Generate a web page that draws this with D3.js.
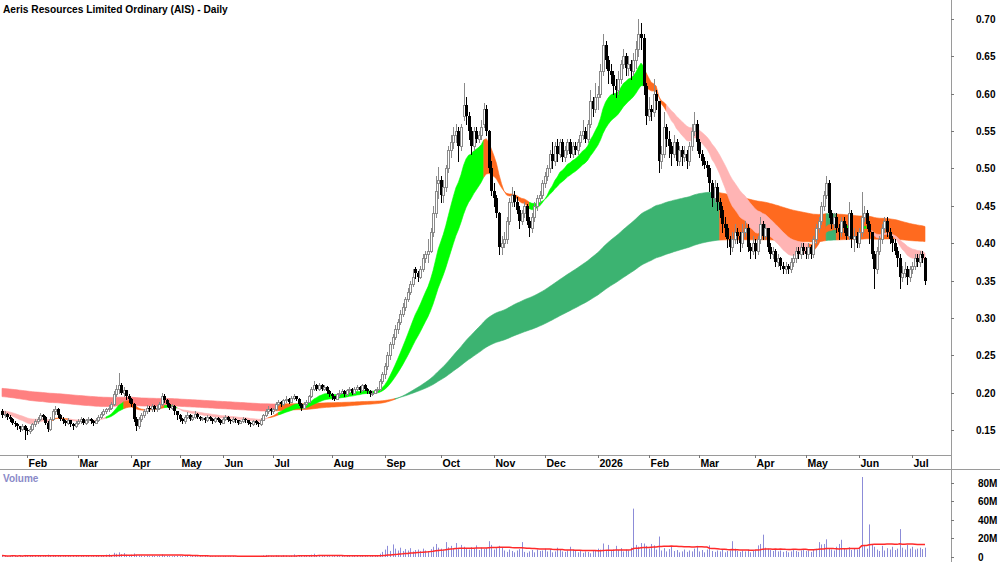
<!DOCTYPE html>
<html>
<head>
<meta charset="utf-8">
<script src="https://cdn.jsdelivr.net/npm/d3@7"></script>
<style>
  body { margin: 0; background: #fff; }
  svg text { font-family: "Liberation Sans", Arial, sans-serif; font-weight: bold; }
</style>
</head>
<body>
<svg id="chart" width="1000" height="562"></svg>
<script>
// Daily candles in cents: [open, high, low, close], one line per month
const ohlc = [
  // Jan 2025
  [17.5,17.8,16.8,17.0],[17.0,17.5,16.8,17.2],[17.2,17.3,16.5,16.8],[16.8,17.0,16.2,16.5],[16.5,16.6,15.8,16.0],[16.0,16.2,15.5,15.8],[15.8,16.0,15.2,15.5],[15.5,15.6,14.8,15.2],[15.2,15.8,15.0,15.6],[15.6,15.7,13.8,15.0],
  // Feb
  [15.0,15.3,14.5,14.8],[14.8,15.5,14.6,15.2],[15.2,16.0,15.0,15.8],[15.8,16.5,15.6,16.2],[16.2,16.8,16.0,16.5],[16.5,17.3,16.3,17.0],[17.0,17.2,16.5,16.8],[16.8,16.9,15.8,16.0],[16.0,16.2,14.8,15.2],[15.2,16.8,15.0,16.5],[16.5,17.8,16.4,17.5],[17.5,18.2,17.2,17.8],[17.8,17.9,16.8,17.0],[17.0,17.2,16.3,16.5],[16.5,16.7,16.0,16.2],[16.2,16.4,15.7,16.0],[16.0,16.6,15.8,16.3],[16.3,16.4,15.6,15.8],[15.8,16.0,15.2,15.5],[15.5,16.2,15.4,16.0],
  // Mar
  [16.0,16.5,15.8,16.2],[16.2,16.8,16.0,16.5],[16.5,16.6,15.8,16.0],[16.0,16.5,15.8,16.3],[16.3,16.8,16.1,16.5],[16.5,16.6,16.0,16.2],[16.2,16.3,15.7,16.0],[16.0,16.6,15.9,16.4],[16.4,17.0,16.2,16.8],[16.8,17.4,16.6,17.2],[17.2,17.8,17.0,17.5],[17.5,18.0,17.3,17.8],[17.8,18.3,17.5,18.0],[18.0,18.8,17.8,18.5],[18.5,20.2,18.3,19.8],[19.8,21.0,19.5,20.5],[20.5,22.6,20.0,21.0],[21.0,21.3,19.8,20.0],[20.0,20.8,19.6,20.3],[20.3,20.4,19.2,19.5],[19.5,19.8,18.8,19.2],
  // Apr
  [19.2,19.3,18.2,18.5],[18.5,18.6,16.2,16.5],[16.5,16.8,15.0,15.5],[15.5,16.8,15.3,16.5],[16.5,17.3,16.2,17.0],[17.0,17.8,16.8,17.5],[17.5,18.3,17.3,18.0],[18.0,18.2,17.5,17.8],[17.8,18.5,17.6,18.2],[18.2,18.3,17.5,17.8],[17.8,18.3,17.6,18.0],[18.0,18.8,17.8,18.5],[18.5,20.0,18.3,19.5],[19.5,19.8,18.8,19.0],[19.0,19.2,18.2,18.5],[18.5,18.6,17.8,18.0],[18.0,18.5,17.8,18.2],[18.2,18.3,17.2,17.5],[17.5,17.6,16.5,17.0],
  // May
  [17.0,17.1,16.2,16.5],[16.5,16.6,15.9,16.2],[16.2,17.0,16.0,16.8],[16.8,17.4,16.6,17.0],[17.0,17.1,16.3,16.5],[16.5,17.0,16.3,16.8],[16.8,17.5,16.6,17.2],[17.2,17.3,16.6,16.8],[16.8,16.9,16.3,16.5],[16.5,16.8,16.3,16.6],[16.6,16.7,16.1,16.3],[16.3,17.0,16.2,16.8],[16.8,16.9,16.3,16.5],[16.5,16.6,16.0,16.2],[16.2,16.8,16.1,16.6],[16.6,16.7,16.2,16.4],[16.4,16.5,15.8,16.0],
  // Jun
  [16.0,16.7,15.9,16.5],[16.5,17.0,16.4,16.8],[16.8,16.9,16.2,16.4],[16.4,16.5,16.0,16.2],[16.2,16.7,16.1,16.5],[16.5,16.6,16.1,16.3],[16.3,16.4,15.8,16.0],[16.0,16.4,15.9,16.2],[16.2,16.7,16.1,16.5],[16.5,16.6,16.1,16.3],[16.3,16.4,15.8,16.0],[16.0,16.1,15.6,15.8],[15.8,16.4,15.7,16.2],[16.2,16.3,15.8,16.0],[16.0,16.1,15.6,15.8],[15.8,16.6,15.7,16.4],[16.4,17.2,16.3,17.0],[17.0,17.8,16.9,17.5],[17.5,18.2,17.3,17.8],[17.8,18.0,17.2,17.5],
  // Jul
  [17.5,18.0,17.3,17.8],[17.8,18.7,17.7,18.5],[18.5,19.0,18.3,18.8],[18.8,18.9,18.2,18.5],[18.5,19.2,18.4,19.0],[19.0,19.5,18.8,19.2],[19.2,19.3,18.6,18.8],[18.8,19.5,18.7,19.3],[19.3,19.8,19.1,19.5],[19.5,19.6,19.0,19.2],[19.2,19.3,18.3,18.5],[18.5,18.6,17.7,18.0],[18.0,18.7,17.9,18.5],[18.5,19.0,18.3,18.8],[18.8,19.7,18.7,19.5],[19.5,20.8,19.4,20.5],[20.5,21.5,20.3,21.0],[21.0,21.2,20.3,20.5],[20.5,21.3,20.4,21.0],[21.0,21.1,20.3,20.5],[20.5,21.0,20.3,20.8],[20.8,20.9,20.0,20.2],[20.2,20.3,19.5,19.8],
  // Aug
  [19.8,19.9,19.2,19.5],[19.5,19.6,19.0,19.2],[19.2,20.0,19.1,19.8],[19.8,20.3,19.6,20.0],[20.0,20.5,19.9,20.2],[20.2,20.3,19.6,19.8],[19.8,20.5,19.7,20.3],[20.3,20.8,20.1,20.5],[20.5,20.6,19.8,20.0],[20.0,20.7,19.9,20.5],[20.5,21.0,20.3,20.8],[20.8,20.9,20.1,20.3],[20.3,21.2,20.2,21.0],[21.0,21.1,20.3,20.5],[20.5,20.6,20.0,20.2],[20.2,20.3,19.6,19.8],[19.8,20.2,19.7,20.0],[20.0,20.5,19.9,20.3],[20.3,20.8,20.1,20.5],[20.5,21.8,20.4,21.5],[21.5,22.8,21.3,22.5],
  // Sep
  [22.5,24.0,22.0,23.5],[23.5,25.5,23.2,25.0],[25.0,26.8,24.5,26.5],[26.5,27.8,26.0,27.5],[27.5,29.0,27.2,28.5],[28.5,29.8,28.0,29.5],[29.5,31.0,29.2,30.5],[30.5,32.0,30.2,31.5],[31.5,32.8,31.0,32.5],[32.5,34.0,32.2,33.5],[33.5,35.0,33.2,34.5],[34.5,36.5,34.3,35.5],[36.5,36.8,35.3,36.0],[36.0,36.3,35.0,35.5],[35.5,37.0,35.3,36.5],[36.5,38.5,36.3,38.0],[38.0,39.0,37.5,38.5],[38.5,40.5,37.5,39.0],[39.0,42.0,38.8,41.5],[41.5,45.0,41.0,44.0],[44.0,49.0,43.5,47.0],[48.0,50.2,46.0,48.5],
  // Oct
  [48.5,49.0,45.5,46.5],[46.5,48.5,45.5,47.5],[47.5,50.5,47.0,50.0],[50.0,53.0,49.5,52.5],[52.5,54.5,51.5,53.5],[53.5,55.5,52.8,54.5],[54.5,56.0,53.5,55.0],[55.0,55.5,51.0,53.0],[53.0,56.0,52.5,55.5],[57.0,61.5,56.5,58.5],[58.5,59.5,56.0,57.0],[57.0,57.5,54.0,55.0],[55.0,55.5,52.0,53.0],[53.0,55.5,52.5,55.0],[55.0,55.5,53.5,54.0],[54.0,55.0,53.5,54.5],[54.5,56.5,54.0,55.5],[56.0,58.8,55.5,58.0],[58.0,58.5,54.5,55.0],[55.0,55.2,49.5,50.0],[50.0,51.0,46.5,47.0],
  // Nov
  [47.0,48.0,45.0,46.0],[46.0,46.5,43.5,44.0],[44.0,44.2,38.5,39.5],[39.5,41.0,38.5,40.0],[40.0,41.5,39.5,40.5],[40.5,43.5,40.0,43.0],[43.0,46.0,42.5,45.5],[45.5,47.5,45.0,46.5],[46.5,47.0,45.0,45.5],[45.5,46.2,44.0,44.5],[44.5,45.0,42.0,43.0],[43.0,44.5,42.5,44.0],[44.0,45.5,43.5,45.0],[45.0,45.2,42.5,43.0],[43.0,43.5,41.0,42.0],[42.0,44.0,41.5,43.5],[43.5,45.5,43.0,45.0],[45.0,46.5,44.5,46.0],[46.0,47.0,45.5,46.5],[46.5,48.5,46.0,48.0],
  // Dec
  [48.0,49.5,47.5,49.0],[49.0,50.5,48.5,50.0],[50.0,52.5,49.5,52.0],[52.0,53.5,50.0,51.0],[51.0,53.5,50.5,53.0],[53.0,54.0,51.0,52.0],[52.0,54.0,51.5,53.5],[53.5,54.0,51.0,51.5],[51.5,53.0,51.0,52.5],[52.5,54.0,52.0,53.5],[53.5,54.0,51.5,52.0],[52.0,53.5,51.5,53.0],[53.0,53.5,52.0,52.5],[52.5,54.0,52.0,53.5],[53.5,55.0,53.0,54.5],[54.5,56.5,54.0,55.0],[55.0,55.5,53.5,54.0],[54.0,56.5,53.5,56.0],[56.0,60.5,55.5,59.0],[59.0,59.5,57.0,58.0],[58.0,61.5,57.5,59.5],
  // Jan 2026
  [59.5,61.0,58.0,60.0],[60.0,64.0,59.5,63.0],[63.0,68.0,62.5,66.5],[66.5,67.0,63.5,64.5],[64.5,65.0,61.5,63.0],[63.0,64.0,61.5,62.5],[62.5,63.0,60.0,61.0],[61.0,62.0,59.5,60.5],[60.5,63.0,60.0,62.0],[62.0,64.5,61.5,64.0],[64.0,66.0,63.5,65.0],[65.0,65.5,62.5,63.5],[63.5,65.0,62.5,64.0],[64.0,64.5,62.0,63.0],[63.0,65.5,62.5,64.5],[64.5,67.0,63.5,66.0],[66.0,70.0,65.0,68.0],[68.0,69.5,66.0,67.5],[67.5,68.0,60.0,61.0],[61.0,61.5,56.0,57.0],
  // Feb
  [57.0,59.5,56.5,58.0],[58.0,58.5,56.5,57.5],[57.5,62.0,57.0,60.0],[60.0,60.5,58.0,59.0],[59.0,59.0,49.5,51.0],[51.0,53.0,50.0,52.0],[52.0,57.5,51.5,55.5],[55.5,56.0,53.0,54.0],[54.0,55.0,51.5,53.0],[53.0,53.5,50.5,52.0],[52.0,54.5,51.5,53.5],[53.5,54.0,50.5,51.0],[51.0,53.0,50.5,52.5],[52.5,53.0,50.5,51.5],[51.5,53.0,51.0,52.0],[52.0,52.5,50.0,51.0],[51.0,53.5,50.5,53.0],[53.0,56.0,52.5,55.0],[55.0,57.5,54.5,56.0],[56.0,56.5,52.5,53.5],
  // Mar
  [53.5,54.0,51.5,52.0],[52.0,52.5,50.5,51.0],[51.0,51.5,50.0,50.5],[50.5,51.0,49.0,50.0],[50.0,50.5,47.0,48.0],[48.0,48.5,45.0,46.0],[46.0,48.5,45.5,47.5],[47.5,48.0,44.5,45.5],[45.5,46.0,43.5,44.5],[44.5,45.0,41.5,42.5],[42.5,43.5,41.0,42.0],[42.0,42.5,39.5,40.5],[40.5,41.0,38.5,39.5],[39.5,41.5,39.0,40.5],[40.5,42.5,40.0,41.5],[41.5,42.0,40.0,41.0],[41.0,41.5,39.0,40.0],[40.0,42.5,39.5,41.5],[41.5,43.0,41.0,42.0],[42.0,42.5,39.0,39.5],[39.5,40.0,38.0,39.0],[39.0,41.0,38.5,40.0],
  // Apr
  [40.0,40.5,38.0,39.0],[39.0,41.0,38.5,40.5],[40.5,43.5,40.0,42.5],[42.5,43.0,40.5,41.0],[41.0,42.5,40.5,42.0],[42.0,42.0,39.0,39.5],[39.5,40.0,38.0,38.5],[38.5,39.5,38.0,39.0],[39.0,39.2,37.0,37.5],[37.5,38.5,37.0,38.0],[38.0,38.2,36.5,37.0],[37.0,37.5,36.0,36.5],[36.5,37.5,36.0,37.0],[37.0,37.2,36.0,36.5],[36.5,38.0,36.2,37.5],[37.5,38.5,37.0,38.0],[38.0,39.5,37.5,39.0],[39.0,39.5,38.0,38.5],[38.5,40.0,38.0,39.5],[39.5,40.0,38.5,39.0],
  // May
  [39.0,39.5,38.0,38.5],[38.5,40.0,38.0,39.5],[39.5,39.8,38.0,38.5],[38.5,41.0,38.2,40.5],[40.5,42.5,40.0,42.0],[42.0,43.5,41.5,43.0],[43.0,45.5,42.5,45.0],[45.0,47.0,44.5,46.5],[46.5,49.0,46.0,48.0],[48.0,48.5,43.5,44.0],[44.0,44.5,42.0,42.5],[42.5,44.0,42.0,43.5],[43.5,44.0,41.5,42.0],[42.0,42.5,40.5,41.5],[41.5,43.5,41.0,43.0],[43.0,43.5,41.5,42.0],[42.0,42.5,40.5,41.0],[41.0,45.5,40.5,44.0],[44.0,44.5,39.5,40.5],[40.5,42.0,39.0,41.0],[41.0,41.5,39.5,40.0],
  // Jun
  [40.0,42.0,39.5,41.5],[41.5,46.8,41.0,43.5],[43.5,45.0,43.0,44.0],[44.0,44.5,42.0,42.5],[42.5,43.0,40.0,41.5],[41.5,41.5,38.0,38.5],[38.5,39.0,34.0,36.5],[36.5,39.5,36.0,39.0],[39.0,41.0,38.5,40.5],[40.5,42.5,40.0,42.0],[42.0,43.5,41.5,43.0],[43.0,43.5,41.0,41.5],[41.5,42.0,40.0,40.5],[40.5,41.0,39.0,40.0],[40.0,40.5,38.5,39.0],[39.0,39.5,37.0,38.0],[38.0,38.5,34.0,35.5],[35.5,37.0,35.0,36.0],[36.0,37.5,35.5,36.5],[36.5,37.0,34.5,35.5],[35.5,37.0,35.0,36.5],
  // Jul
  [36.5,37.5,36.0,37.0],[37.0,38.5,36.5,38.0],[38.0,38.5,37.0,37.5],[37.5,39.0,37.0,38.5],[38.5,39.0,37.5,38.0],[38.0,38.2,34.5,35.0]
];

// Daily volume in millions of shares
const volumes = [
  1.5,1.2,0.8,1.0,1.8,1.1,0.9,1.4,1.0,2.2,
  1.8,1.2,1.5,2.0,1.1,1.6,0.9,1.3,2.5,1.8,2.2,1.5,1.0,1.2,0.8,1.1,1.4,0.9,1.2,1.0,
  0.8,1.0,1.3,0.9,1.2,0.7,1.0,1.5,1.8,2.0,1.6,2.5,3.0,2.2,4.5,3.5,5.0,3.0,4.2,2.5,1.8,
  2.5,3.8,2.2,1.8,1.5,1.2,1.6,1.0,1.4,1.1,0.9,1.3,2.8,1.5,1.2,1.0,0.8,1.1,1.3,
  0.9,1.0,0.8,1.2,0.7,1.0,1.3,0.8,0.9,0.6,1.0,0.8,1.1,0.7,0.9,0.8,0.6,
  0.8,1.0,0.7,0.9,1.1,0.6,0.8,1.0,0.7,0.9,0.6,0.8,1.0,0.7,0.9,1.2,1.8,2.2,1.5,1.3,
  1.0,1.8,1.5,1.2,2.0,1.6,1.1,1.4,2.8,1.3,1.0,1.2,1.5,1.1,1.6,2.5,3.5,1.8,2.2,1.4,1.2,1.0,0.9,
  0.8,1.0,1.2,0.9,1.1,0.7,1.3,1.0,0.8,1.2,1.5,0.9,1.4,1.0,0.8,0.9,1.1,1.3,1.5,3.5,5.5,
  8.0,12.0,6.5,13.5,9.0,7.0,10.0,6.5,8.5,7.0,9.5,6.0,7.5,8.0,6.5,9.0,7.0,6.0,8.5,11.0,14.0,10.0,
  9.0,8.0,16.0,10.5,12.0,9.0,15.0,8.5,13.0,11.0,9.5,8.0,10.5,9.0,12.5,7.5,10.0,8.5,9.5,17.0,13.0,
  8.0,9.5,12.0,10.0,7.0,5.5,8.0,6.5,5.0,7.0,8.5,16.0,5.5,4.5,6.0,7.5,5.0,8.0,6.5,7.0,
  9.0,6.0,8.5,5.0,6.0,10.0,7.5,6.0,5.5,7.0,11.0,8.0,6.5,5.0,7.0,4.5,6.0,5.5,4.0,7.5,6.5,
  9.0,8.0,14.5,7.0,13.0,6.5,8.0,12.0,7.5,9.5,6.0,8.0,7.0,10.0,52.0,13.0,11.0,15.0,14.5,12.0,
  9.0,14.0,12.5,8.0,22.0,7.0,9.5,6.0,8.5,11.0,6.5,7.5,5.0,6.0,8.0,5.5,7.0,6.0,9.0,12.0,
  6.0,7.5,5.0,8.0,12.5,6.5,5.5,7.0,6.0,8.5,5.0,6.5,7.0,17.0,9.0,6.5,5.5,7.0,6.0,8.0,5.0,6.5,
  7.5,12.5,14.0,24.0,10.0,9.0,7.5,6.5,8.0,6.0,7.0,5.5,6.5,5.0,6.0,7.5,6.5,5.5,7.0,8.0,
  6.5,7.0,5.5,8.0,9.0,16.0,13.5,14.0,19.0,9.5,8.0,7.0,11.0,14.0,18.5,9.0,8.0,10.5,7.5,9.0,8.0,
  10.0,86.0,12.0,9.0,35.0,13.0,11.0,8.0,6.5,12.0,7.0,9.5,8.0,11.0,7.5,9.0,30.0,10.0,8.0,13.0,9.0,
  11.0,8.0,9.0,10.0,8.5,10.0
];

// Month labels and the candle index where each month begins
const monthLabels = ["Feb","Mar","Apr","May","Jun","Jul","Aug","Sep","Oct","Nov","Dec","2026","Feb","Mar","Apr","May","Jun","Jul"];
const monthStarts = [10,30,51,70,87,107,130,151,173,194,214,235,255,275,297,317,338,359];

const priceTicks = [0.15,0.20,0.25,0.30,0.35,0.40,0.45,0.50,0.55,0.60,0.65,0.70];
const volumeTicks = [0,20,40,60,80];

// Moving average ribbons: [fast, slow] periods and the values they stood at when the chart opens
const shortPeriods = [14, 28];
const longPeriods = [150, 250];
const shortSeed = [0.171, 0.176];
const longSeed = [0.195, 0.206];

// Trend state of each ribbon, as [first candle index, state]
const shortStates = [[0,"down"],[19,"mixed"],[26,"down"],[41,"up"],[48,"mixed"],[56,"down"],[57,"mixed"],[64,"up"],[69,"down"],[105,"mixed"],[109,"up"],[190,"mixed"],[208,"up"],[254,"mixed"],[262,"down"],[318,"mixed"],[333,"up"],[335,"mixed"],[339,"up"],[341,"mixed"],[343,"down"]];
const longStates = [[0,"down"],[108,"mixed"],[155,"up"],[283,"mixed"],[325,"up"],[329,"mixed"]];

const volumeAvgDays = 30;

// ---------------------------------------------------------------
const svg = d3.select("#chart");
const n = ohlc.length;
const axisX = 951;

const x = d3.scaleLinear().domain([0, n - 1]).range([2, 925]);
const y = d3.scaleLinear().domain([0.15, 0.70]).range([430, 19]);
const yv = d3.scaleLinear().domain([0, 80]).range([557, 482.6]);

const closes = ohlc.map(d => d[3] / 100);

function ema(values, period, seed) {
    const a = 2 / (period + 1);
    let e = seed;
    return values.map(v => (e = e + a * (v - e)));
}

const ribbonColors = {
    short: { up: "#00ff00", mixed: "#ff6a1f", down: "#ffb4b4" },
    long:  { up: "#3cb371", mixed: "#ff6a1f", down: "#ff8080" }
};

function drawRibbon(periods, seed, runs, colors) {
    const fast = ema(closes, periods[0], seed[0]);
    const slow = ema(closes, periods[1], seed[1]);
    const area = d3.area()
        .x(i => x(i))
        .y0(i => y(fast[i]))
        .y1(i => y(slow[i]));
    const g = svg.append("g");
    runs.forEach((r, k) => {
        const start = r[0];
        const end = k + 1 < runs.length ? runs[k + 1][0] : n - 1;
        const idx = d3.range(start, Math.min(end, n - 1) + 1);
        g.append("path")
            .attr("d", area(idx))
            .attr("fill", colors[r[1]])
            .attr("stroke", colors[r[1]])
            .attr("stroke-width", 0.6);
    });
}

drawRibbon(longPeriods, longSeed, longStates, ribbonColors.long);
drawRibbon(shortPeriods, shortSeed, shortStates, ribbonColors.short);

// Candles
const candles = svg.append("g");
ohlc.forEach((d, i) => {
    const [o, h, l, c] = d.map(v => v / 100);
    const cx = Math.round(x(i));
    const up = c >= o;
    candles.append("line")
        .attr("x1", cx + 0.5).attr("x2", cx + 0.5)
        .attr("y1", Math.round(y(h))).attr("y2", Math.round(y(l)) + 1)
        .attr("stroke", up ? "#8a8a8a" : "#000");
    const top = Math.round(y(Math.max(o, c)));
    const bot = Math.round(y(Math.min(o, c)));
    if (up) {
        candles.append("rect")
            .attr("x", cx - 0.5).attr("y", top + 0.5)
            .attr("width", 2).attr("height", Math.max(bot - top, 1))
            .attr("fill", "#fff").attr("stroke", "#8a8a8a");
    } else {
        candles.append("rect")
            .attr("x", cx - 1).attr("y", top)
            .attr("width", 3).attr("height", Math.max(bot - top, 1))
            .attr("fill", "#000");
    }
});

// Frame lines
svg.append("line").attr("x1", 0).attr("x2", axisX).attr("y1", 455.5).attr("y2", 455.5).attr("stroke", "#9a9a9a");
svg.append("line").attr("x1", 0).attr("x2", 1000).attr("y1", 469.5).attr("y2", 469.5).attr("stroke", "#9a9a9a");
svg.append("line").attr("x1", axisX + 0.5).attr("x2", axisX + 0.5).attr("y1", 0).attr("y2", 562).attr("stroke", "#9a9a9a");

// Price axis
const pAxis = svg.append("g");
priceTicks.forEach(t => {
    const ty = Math.round(y(t)) + 0.5;
    pAxis.append("line").attr("x1", axisX).attr("x2", axisX + 3).attr("y1", ty).attr("y2", ty).attr("stroke", "#777");
    pAxis.append("text").attr("x", 976).attr("y", ty + 3.5).attr("font-size", 10).text(d3.format(".2f")(t));
});

// Volume axis
const vAxis = svg.append("g");
volumeTicks.forEach(t => {
    const ty = Math.round(yv(t)) + 0.5;
    vAxis.append("line").attr("x1", axisX).attr("x2", axisX + 3).attr("y1", ty).attr("y2", ty).attr("stroke", "#777");
    vAxis.append("text").attr("x", 978).attr("y", ty + 3.5).attr("font-size", 10).text(t === 0 ? "0" : t + "M");
});

// Month axis
const mAxis = svg.append("g");
monthStarts.forEach((s, k) => {
    const mx = Math.round(x(s)) + 0.5;
    mAxis.append("line").attr("x1", mx).attr("x2", mx).attr("y1", 455).attr("y2", 458).attr("stroke", "#777");
    mAxis.append("text").attr("x", mx + 1).attr("y", 467).attr("font-size", 10.5).text(monthLabels[k]);
});

// Volume bars and average
const vol = svg.append("g");
volumes.forEach((v, i) => {
    const cx = Math.round(x(i)) + 0.5;
    vol.append("line").attr("x1", cx).attr("x2", cx)
        .attr("y1", yv(0)).attr("y2", yv(v))
        .attr("stroke", "#8c8cd8");
});
const volAvg = volumes.map((v, i) => d3.mean(volumes.slice(Math.max(0, i - volumeAvgDays + 1), i + 1)));
vol.append("path")
    .attr("d", d3.line().x((d, i) => x(i)).y(d => yv(d))(volAvg))
    .attr("fill", "none").attr("stroke", "#ff2a2a").attr("stroke-width", 1.5);

// Titles
svg.append("text").attr("x", 3).attr("y", 12.5).attr("font-size", 10.2).attr("fill", "#000")
    .text("Aeris Resources Limited Ordinary (AIS) - Daily");
svg.append("text").attr("x", 3).attr("y", 482).attr("font-size", 10).attr("fill", "#8a8ac8")
    .text("Volume");
</script>
</body>
</html>
